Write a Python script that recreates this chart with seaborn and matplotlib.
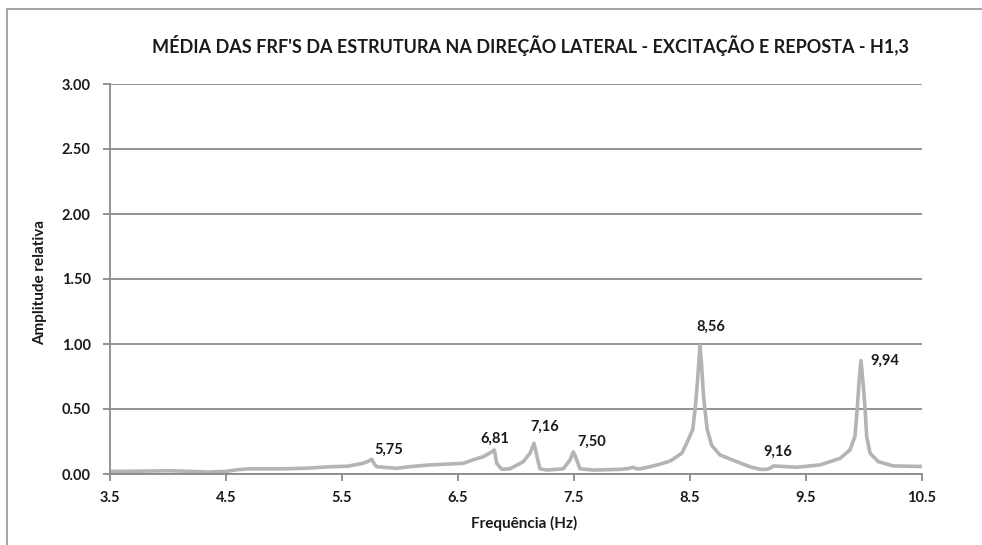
import matplotlib
matplotlib.use("Agg")
import matplotlib.pyplot as plt
import matplotlib.patches as mpatches
from matplotlib import font_manager
import seaborn as sns
import pandas as pd

# ---- data ----
freq = [3.50, 3.80, 4.00, 4.20, 4.35, 4.50, 4.60, 4.70, 5.00, 5.20, 5.40, 5.55,
        5.68, 5.72, 5.756, 5.78, 5.80, 5.97, 6.10, 6.26, 6.546, 6.632, 6.718, 6.79,
        6.813, 6.834, 6.877, 6.948, 7.063, 7.121, 7.155, 7.17, 7.184, 7.207, 7.265,
        7.408, 7.466, 7.494, 7.51, 7.523, 7.552, 7.667, 7.90, 7.98, 8.01, 8.04, 8.07,
        8.155, 8.24, 8.33, 8.43, 8.471, 8.523, 8.543, 8.565, 8.578, 8.586, 8.60,
        8.615, 8.629, 8.649, 8.687, 8.759, 8.903, 9.017, 9.103, 9.16, 9.19, 9.22,
        9.42, 9.621, 9.793, 9.879, 9.922, 9.942, 9.958, 9.974, 9.99, 10.009, 10.023,
        10.052, 10.123, 10.252, 10.483, 10.50]
amp = [0.020, 0.022, 0.025, 0.020, 0.015, 0.020, 0.033, 0.040, 0.040, 0.045, 0.056, 0.060,
       0.082, 0.095, 0.113, 0.075, 0.056, 0.044, 0.058, 0.070, 0.082, 0.110, 0.133, 0.170,
       0.185, 0.082, 0.036, 0.040, 0.095, 0.160, 0.236, 0.180, 0.120, 0.040, 0.030,
       0.040, 0.108, 0.170, 0.140, 0.108, 0.040, 0.030, 0.036, 0.044, 0.052, 0.040, 0.040,
       0.056, 0.075, 0.100, 0.160, 0.236, 0.340, 0.490, 0.720, 0.880, 0.990, 0.840,
       0.620, 0.490, 0.340, 0.220, 0.146, 0.095, 0.056, 0.036, 0.036, 0.045, 0.062,
       0.052, 0.070, 0.120, 0.185, 0.290, 0.505, 0.720, 0.872, 0.720, 0.505, 0.290,
       0.160, 0.095, 0.062, 0.058, 0.058]

peak_labels = ["5,75", "6,81", "7,16", "7,50", "8,56", "9,16", "9,94"]
peak_freq = [5.756, 6.813, 7.155, 7.494, 8.586, 9.16, 9.974]
peak_amp = [0.113, 0.185, 0.236, 0.170, 0.990, 0.036, 0.872]

x_ticks = [3.5, 4.5, 5.5, 6.5, 7.5, 8.5, 9.5, 10.5]
y_ticks = [0.00, 0.50, 1.00, 1.50, 2.00, 2.50, 3.00]

title = "MÉDIA DAS FRF'S DA ESTRUTURA NA DIREÇÃO LATERAL - EXCITAÇÃO E REPOSTA - H1,3"
xlabel = "Frequência (Hz)"
ylabel = "Amplitude relativa"

# ---- style ----
sns.set_theme(style="white")
avail = {f.name for f in font_manager.fontManager.ttflist}
main_font = "Lato" if "Lato" in avail else "DejaVu Sans"
plt.rcParams['font.family'] = [main_font, 'DejaVu Sans']

W, H = 982, 545
fig = plt.figure(figsize=(W / 100, H / 100), dpi=100)
fig.patch.set_facecolor("white")

# chart-area frame (extends beyond the right and bottom edges)
fig.add_artist(mpatches.Rectangle((7 / W, -0.05), 1.2, 1.05 - 9.5 / H,
                                  transform=fig.transFigure, fill=False,
                                  edgecolor="#a6a6a6", linewidth=1.5))

ax = fig.add_axes([110 / W, (H - 474) / H, (922 - 110) / W, (474 - 84) / H])
df = pd.DataFrame({"freq": freq, "amp": amp})
sns.lineplot(data=df, x="freq", y="amp", ax=ax, color="#b4b4b4", linewidth=2.6,
             solid_joinstyle="round", solid_capstyle="round")

ax.set_xlim(3.5, 10.5)
ax.set_ylim(0, 3.0)
ax.set_xticks(x_ticks)
ax.set_xticklabels([f"{t:.1f}" for t in x_ticks])
ax.set_yticks(y_ticks)
ax.set_yticklabels([f"{t:.2f}" for t in y_ticks])
ax.yaxis.grid(True, color="#8a8a8a", linewidth=1.3)
ax.set_axisbelow(True)
for s in ["top", "right"]:
    ax.spines[s].set_visible(False)
for s in ["left", "bottom"]:
    ax.spines[s].set_color("#8a8a8a")
    ax.spines[s].set_linewidth(1.3)
ax.tick_params(axis="both", direction="out", length=5, width=1.3, color="#8a8a8a",
               labelsize=10.5, labelcolor="#1a1a1a", bottom=True, left=True)
ax.tick_params(axis="y", pad=9)
ax.tick_params(axis="x", pad=7)
for lab in ax.get_xticklabels() + ax.get_yticklabels():
    lab.set_fontweight("bold")

ax.set_xlabel(xlabel, fontsize=11, fontweight="bold", color="#1a1a1a")
ax.set_ylabel(ylabel, fontsize=11, fontweight="bold", color="#1a1a1a")
ax.xaxis.set_label_coords(0.51, -0.108)
ax.yaxis.set_label_coords(-0.078, 0.49)

offsets = [(17, 10), (1, 11), (11, 17), (18, 10), (11, 19), (11, 18), (24, 0)]
for lab, fx, fy, off in zip(peak_labels, peak_freq, peak_amp, offsets):
    ax.annotate(lab, (fx, fy), xytext=off, textcoords="offset pixels",
                ha="center", va="center", fontsize=10.5, fontweight="bold", color="#1a1a1a")

t = fig.text(531 / W, 1 - 46 / H, title, ha="center", va="center", fontsize=14,
             fontweight="bold", color="#1a1a1a")
# fit title to the reference width (~762 px)
r = fig.canvas.get_renderer()
wpx = t.get_window_extent(renderer=r).width
t.set_fontsize(14 * 762 / wpx)

fig.savefig("out.png", dpi=100, facecolor="white")
